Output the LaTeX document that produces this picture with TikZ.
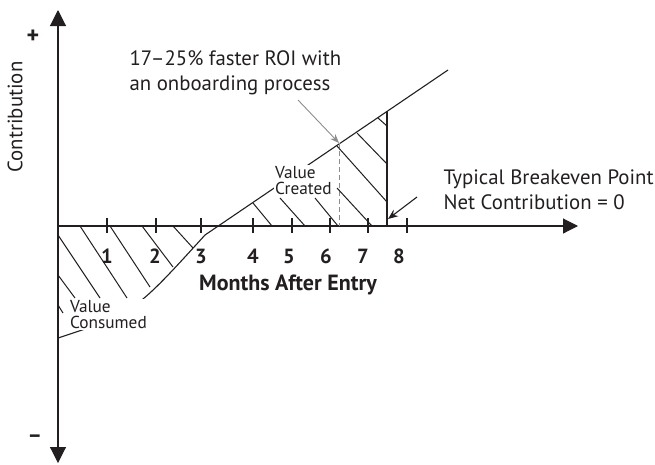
\documentclass[tikz,border=0pt]{standalone}
\usepackage{fontspec}
\setmainfont{PT Sans}
\usetikzlibrary{arrows.meta}
\definecolor{ink}{HTML}{231F20}
\begin{document}
\begin{tikzpicture}[x=1pt,y=-1pt,line width=1.1pt,draw=ink,text=ink,
  lbl/.style={inner sep=0pt,anchor=base west,font=\fontsize{20.8}{25}\selectfont},
  num/.style={inner sep=0pt,anchor=base,font=\fontsize{20.5}{22}\selectfont\bfseries},
  small/.style={inner sep=1.5pt,anchor=north west,align=left,fill=white,
    font=\fontsize{17.3}{16.5}\selectfont},
  hatch/.style={line width=1pt},
  axtip/.style={-{Triangle[length=16pt,width=16pt]}}]
\useasboundingbox (0,0) rectangle (655,464);
% axes
\coordinate (O) at (58,226);
\coordinate (ytop) at (58,10);
\coordinate (ybot) at (58,463);
\coordinate (xend) at (578,226);
\draw[axtip] (O) -- (ytop);
\draw[axtip] (O) -- (ybot);
\draw[-{Triangle[length=15pt,width=15pt]}] (O) -- (xend);
\foreach \x in {107,156,201,253,292,330,368,407} \draw (\x,218) -- (\x,233);
% curve
\coordinate (c0) at (58,338);
\coordinate (cc) at (134,313);
\coordinate (ck) at (205,235);
\coordinate (cend) at (448,70);
\draw (c0) .. controls (cc) .. (ck) -- (cend);
% breakeven vertical
\coordinate (vtop) at (387,111);
\coordinate (vbot) at (387,226);
\draw (vtop) -- (vbot);
% dashed
\coordinate (dtop) at (339,143);
\coordinate (dbot) at (339,226);
\draw[dashed,dash pattern=on 5pt off 3pt,black!45,line width=0.9pt] (dtop) -- (dbot);
% hatch: value consumed
\foreach \a/\b/\c/\d in {58/235/100/298, 80/226/127/298, 110/226/150/287, 142/226/173/267,
  173/226/193/248, 58/275/75/298, 58/305/63/313}
  \draw[hatch] (\a,\b) -- (\c,\d);
% hatch: value created
\foreach \a/\b/\c/\d in {253/203/272/226, 280/198/305/226, 315/198/338/226, 337/188/372/226,
  337/146/387/202, 357/133/387/164, 378/118/387/126}
  \draw[hatch] (\a,\b) -- (\c,\d);
% region labels
\node[small] (vcons) at (68,298) {Value\\Consumed};
\node[small] (vcrea) at (273,164) {Value\\Created};
% numbers
\foreach \x/\n [count=\i] in {107/1,155/2,201/3,253/4,289/5,326/6,363/7,399/8}
  \node[num] (n\i) at (\x,263) {\n};
\node[num,anchor=base,font=\fontsize{22}{22}\selectfont\bfseries] (months) at (288,290) {Months After Entry};
% axis labels
\node[inner sep=0pt,font=\fontsize{20.8}{20}\selectfont,rotate=90] (contrib) at (15,117) {Contribution};
\node[inner sep=0pt,font=\fontsize{24}{24}\selectfont\bfseries] (plus) at (33,37) {+};
\node[inner sep=0pt,font=\fontsize{22}{22}\selectfont\bfseries] (minus) at (35,439) {–};
% callouts
\node[lbl] (roi1) at (129,65) {17–25\% faster ROI with};
\node[lbl] (roi2) at (129,90) {an onboarding process};
\coordinate (gs) at (298,100);
\draw[black!45,line width=0.9pt,-{Stealth[length=9pt,width=7pt]}] (gs) -- (dtop);
\node[lbl] (be1) at (443,184) {Typical Breakeven Point};
\node[lbl] (be2) at (443,209) {Net Contribution = 0};
\coordinate (bs) at (417,197);
\coordinate (bt) at (388,219);
\draw[-{Stealth[length=10pt,width=8pt]}] (bs) -- (bt);
\end{tikzpicture}
\end{document}
